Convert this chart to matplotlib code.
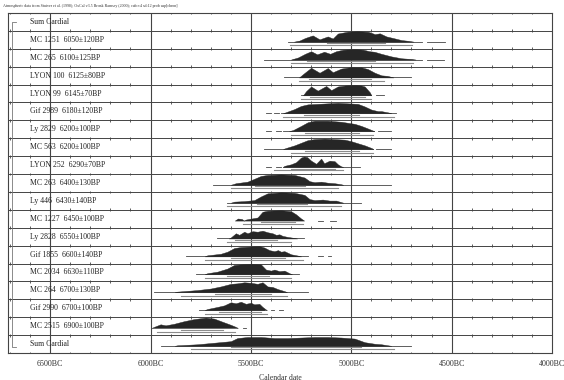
import matplotlib
matplotlib.use("Agg")
import matplotlib.pyplot as plt

plt.rcParams["font.family"] = ["Liberation Serif", "DejaVu Serif"]

# ---- data (years BC as negatives, heights relative) ----
LABELS = [
    "Sum Cardial",
    "MC 1251  6050±120BP", "MC 265  6100±125BP", "LYON 100  6125±80BP",
    "LYON 99  6145±70BP", "Gif 2989  6180±120BP", "Ly 2829  6200±100BP",
    "MC 563  6200±100BP", "LYON 252  6290±70BP", "MC 263  6400±130BP",
    "Ly 446  6430±140BP", "MC 1227  6450±100BP", "Ly 2828  6550±100BP",
    "Gif 1855  6600±140BP", "MC 2034  6630±110BP", "MC 264  6700±130BP",
    "Gif 2990  6700±100BP", "MC 2515  6900±100BP", "Sum Cardial",
]

mc1251 = [(-5285, 0), (-5258, .1), (-5230, .35), (-5192, .6), (-5158, .22), (-5117, .5),
          (-5092, .3), (-5067, .78), (-5017, .96), (-4967, 1), (-4917, .95), (-4900, .85),
          (-4883, .72), (-4858, .8), (-4825, .5), (-4792, .35), (-4750, .15), (-4717, .08), (-4690, 0)]
mc265 = [(-5300, 0), (-5265, .2), (-5230, .55), (-5200, .8), (-5170, .5), (-5135, .75),
         (-5105, .55), (-5075, .8), (-5040, .95), (-4983, 1), (-4940, .95), (-4910, .8),
         (-4885, .75), (-4850, .55), (-4800, .3), (-4750, .12), (-4700, .05), (-4680, 0)]
lyon100 = [(-5260, 0), (-5235, .4), (-5200, .93), (-5180, .7), (-5158, .45), (-5117, .9),
           (-5092, .5), (-5050, .85), (-5000, 1), (-4950, .98), (-4917, .8), (-4883, .45),
           (-4850, .2), (-4820, .15), (-4800, .05), (-4790, 0)]
lyon99 = [(-5240, 0), (-5225, .4), (-5200, .85), (-5167, .45), (-5125, .9), (-5100, .5),
          (-5067, .85), (-5030, .95), (-4983, 1), (-4950, .95), (-4933, .85), (-4908, .3), (-4900, 0)]
gif2989 = [(-5340, 0), (-5325, .1), (-5283, .4), (-5250, .7), (-5217, .85), (-5167, .9),
           (-5117, .95), (-5067, 1), (-5017, .95), (-4967, .9), (-4933, .65), (-4900, .35),
           (-4867, .2), (-4850, .2), (-4817, .08), (-4800, 0)]
ly2829 = [(-5310, 0), (-5290, .1), (-5250, .5), (-5217, .85), (-5183, 1), (-5117, 1),
          (-5050, .9), (-5017, .8), (-4983, .7), (-4950, .5), (-4917, .25), (-4892, .05), (-4885, 0)]
mc563 = [(-5340, 0), (-5325, .1), (-5283, .35), (-5250, .6), (-5217, .85), (-5183, .95),
         (-5133, 1), (-5083, .95), (-5033, .9), (-5000, .75), (-4967, .55), (-4933, .35),
         (-4900, .1), (-4890, 0)]
lyon252 = [(-5340, 0), (-5333, .1), (-5300, .25), (-5275, .45), (-5250, .9), (-5235, 1),
           (-5220, .95), (-5200, .6), (-5175, .3), (-5150, .8), (-5135, .35), (-5108, .6),
           (-5083, .55), (-5067, .25), (-5050, .05), (-5040, 0)]
mc263 = [(-5600, 0), (-5575, .15), (-5517, .3), (-5450, .85), (-5417, .95), (-5350, 1),
         (-5283, .95), (-5233, .7), (-5208, .35), (-5183, .25), (-5150, .3), (-5117, .2),
         (-5083, .15), (-5050, .05), (-5040, 0)]
ly446 = [(-5600, 0), (-5583, .1), (-5533, .15), (-5483, .25), (-5450, .6), (-5417, .9),
         (-5350, 1), (-5283, .95), (-5233, .75), (-5208, .35), (-5183, .25), (-5142, .3),
         (-5108, .2), (-5075, .2), (-5050, .05), (-5040, 0)]
mc1227 = [(-5580, 0), (-5565, .2), (-5545, .15), (-5535, 0), (-5530, .05), (-5525, .1),
          (-5467, .3), (-5442, .85), (-5417, .95), (-5350, 1), (-5300, .9), (-5275, .6),
          (-5250, .2), (-5235, 0)]
ly2828 = [(-5610, 0), (-5600, .1), (-5575, .5), (-5558, .35), (-5533, .65), (-5517, .5),
          (-5492, .7), (-5467, .65), (-5442, .75), (-5417, .6), (-5392, .5), (-5375, .35),
          (-5358, .4), (-5342, .25), (-5317, .15), (-5283, .05), (-5270, 0)]
gif1855 = [(-5730, 0), (-5717, .1), (-5650, .25), (-5617, .45), (-5583, .8), (-5550, .9),
           (-5500, .95), (-5458, 1), (-5433, .85), (-5408, .6), (-5383, .5), (-5365, .6),
           (-5350, .45), (-5333, .5), (-5300, .2), (-5267, .08), (-5250, 0)]
mc2034 = [(-5730, 0), (-5717, .1), (-5667, .25), (-5617, .55), (-5583, .9), (-5550, .95),
          (-5500, 1), (-5450, .95), (-5425, .45), (-5400, .35), (-5383, .45), (-5358, .3),
          (-5333, .35), (-5308, .1), (-5295, 0)]
mc264 = [(-5880, 0), (-5867, .05), (-5767, .2), (-5700, .35), (-5650, .55), (-5600, .8),
         (-5567, .85), (-5533, .95), (-5500, .9), (-5467, .8), (-5442, .95), (-5417, .55),
         (-5392, .5), (-5367, .3), (-5333, .1), (-5320, 0)]
gif2990 = [(-5730, 0), (-5717, .1), (-5667, .3), (-5633, .45), (-5600, .75), (-5575, .65),
           (-5550, .8), (-5525, .6), (-5500, .7), (-5483, .55), (-5458, .6), (-5442, .3),
           (-5425, .05), (-5420, 0)]
mc2515 = [(-5995, 0), (-5983, .1), (-5950, .35), (-5925, .25), (-5883, .4), (-5833, .65),
          (-5783, .85), (-5725, 1), (-5683, .9), (-5642, .6), (-5600, .3), (-5575, .1), (-5565, 0)]
sum_cardial = [(-5880, 0), (-5867, .05), (-5767, .15), (-5683, .3), (-5600, .45), (-5567, .75),
               (-5517, .85), (-5450, .85), (-5383, .75), (-5317, .75), (-5250, .8), (-5183, .85),
               (-5117, .85), (-5050, .8), (-4983, .7), (-4933, .35), (-4883, .2), (-4850, .15),
               (-4817, .05), (-4800, 0)]

PROFILES = [None, mc1251, mc265, lyon100, lyon99, gif2989, ly2829, mc563, lyon252, mc263,
            ly446, mc1227, ly2828, gif1855, mc2034, mc264, gif2990, mc2515, sum_cardial]

# thin low-probability tails / stray bits
TAILS = [
    [],
    [(-5315, -4650), (-4625, -4535)],
    [(-5435, -4650), (-4625, -4540)],
    [(-5333, -4700)],
    [(-5250, -4900), (-4875, -4835)],
    [(-5425, -5400), (-5383, -5358), (-5350, -4775)],
    [(-5425, -5400), (-5375, -5350), (-5340, -4885), (-4867, -4800)],
    [(-5433, -4890), (-4875, -4800)],
    [(-5425, -5400), (-5375, -5350), (-5340, -4958)],
    [(-5690, -4800)],
    [(-5617, -4950)],
    [(-5167, -5142), (-5108, -5075)],
    [(-5667, -5233)],
    [(-5825, -5217), (-5167, -5142), (-5117, -5100)],
    [(-5775, -5258)],
    [(-5983, -5217)],
    [(-5758, -5433), (-5400, -5383), (-5358, -5340)],
    [(-5540, -5525)],
    [(-5950, -4700)],
]

R68 = [None, (-5120, -4830), (-5220, -4880), (-5210, -4900), (-5205, -4930), (-5235, -4960),
       (-5230, -4960), (-5230, -4960), (-5300, -5080), (-5480, -5230), (-5470, -5220),
       (-5450, -5280), (-5580, -5370), (-5600, -5330), (-5620, -5410), (-5680, -5400),
       (-5660, -5450), (-5850, -5640), (-5600, -4950)]
R95 = [None, (-5305, -4695), (-5300, -4690), (-5260, -4835), (-5250, -4900), (-5340, -4785),
       (-5300, -4890), (-5300, -4890), (-5383, -5040), (-5600, -5067), (-5620, -5050),
       (-5540, -5240), (-5620, -5300), (-5730, -5240), (-5730, -5300), (-5850, -5320),
       (-5730, -5420), (-5970, -5580), (-5800, -4785)]

GRID_YEARS = [-6500, -6000, -5500, -5000, -4500]
TICK_YEARS = [-6500, -6000, -5500, -5000, -4500, -4000]
TICK_LABELS = ["6500BC", "6000BC", "5500BC", "5000BC", "4500BC", "4000BC"]

X0, X1 = -6710, -4000
DARK = "#262626"
LINE = "#444444"
RANGE = "#8c8c8c"

fig = plt.figure(figsize=(5.64, 3.80), dpi=100)
ax = fig.add_axes([8 / 564, 27 / 380, 544 / 564, 340 / 380])
n = len(LABELS)
ax.set_xlim(X0, X1)
ax.set_ylim(n, 0)

# row separators with small century ticks
for k in range(n + 1):
    ax.plot([X0, X1], [k, k], color=LINE, lw=0.7, zorder=2)
    ticks = list(range(-6700, -3999, 100))
    ax.vlines(ticks, k - 0.08, k + 0.08, color=LINE, lw=0.6, zorder=2)

for yr in GRID_YEARS:
    ax.axvline(yr, color=LINE, lw=0.8, zorder=2)

# bracket for the Sum group
bx = -6690
ax.plot([bx + 18, bx, bx, bx + 18], [0.5, 0.5, 18.65, 18.65], color="#777777", lw=0.6, zorder=2)

# labels
for k, lab in enumerate(LABELS):
    ax.text(-6600, k + 0.5, lab, fontsize=5.6, ha="left", va="center", color="#222222", zorder=4)

# distributions
H = 0.58
for k, prof in enumerate(PROFILES):
    base = k + 0.6
    for a, b in TAILS[k]:
        ax.plot([a, b], [base, base], color=LINE, lw=0.6, zorder=3)
    if prof is None:
        continue
    xs = [p[0] for p in prof]
    hs = [base - p[1] * H for p in prof]
    ax.fill_between(xs, base, hs, color=DARK, lw=0.3, zorder=3)
    a, b = R68[k]
    ax.plot([a, b], [base + 0.09, base + 0.09], color=RANGE, lw=0.8, zorder=3)
    a, b = R95[k]
    ax.plot([a, b], [base + 0.2, base + 0.2], color=RANGE, lw=0.8, zorder=3)

ax.set_xticks(TICK_YEARS)
ax.set_xticklabels(TICK_LABELS, fontsize=5.8, color="#333333")
ax.tick_params(axis="x", length=0, pad=5)
ax.set_yticks([])
ax.set_xlabel("Calendar date", fontsize=5.6, color="#333333", labelpad=4)
for s in ax.spines.values():
    s.set_color(LINE)
    s.set_linewidth(0.8)

fig.text(0.006, 0.984,
         "Atmospheric data from Stuiver et al. (1998); OxCal v3.5 Bronk Ramsey (2000); cub r:4 sd:12 prob usp[chron]",
         fontsize=2.9, ha="left", va="center", color="#333333")

fig.savefig("out.png", dpi=100)
